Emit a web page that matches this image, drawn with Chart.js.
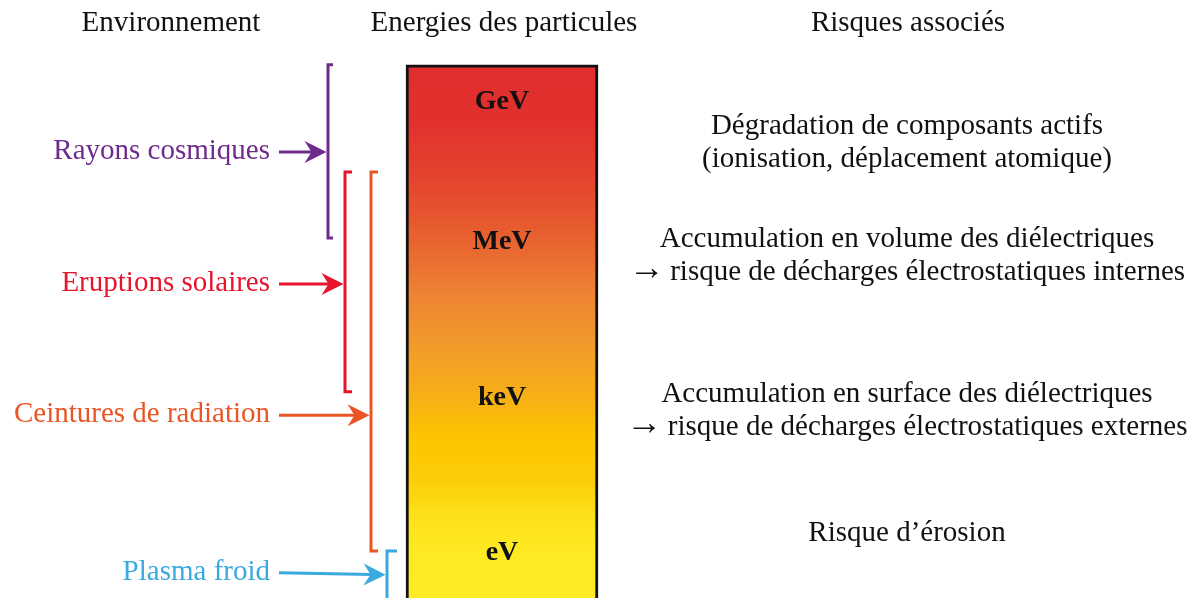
<!DOCTYPE html>
<html><head><meta charset="utf-8">
<script src="https://cdn.jsdelivr.net/npm/chart.js@4/dist/chart.umd.min.js"></script>
<style>html,body{margin:0;padding:0;background:#fff;overflow:hidden}canvas{display:block}</style>
</head><body><canvas id="c" width="1201" height="598"></canvas>
<script>
// ---------- DATA (energies as log10(E / 1 eV)) ----------
const columnHeaders = ['Environnement', 'Energies des particules', 'Risques associés'];
const energyUnits = ['eV', 'keV', 'MeV', 'GeV'];
const energyLevels = [0, 3, 6, 8.7];
const barRange = [-1.5, 9.38];
const environments = ['Rayons cosmiques', 'Eruptions solaires', 'Ceintures de radiation', 'Plasma froid'];
const envLow = [6.04, 3.07, 0, -1.5];
const envHigh = [9.38, 7.31, 7.31, 0];
const envArrowLevel = [7.70, 5.15, 2.62, -0.46];
const envArrowTail = [7.70, 5.15, 2.62, -0.42];
const risks = [
  ['Dégradation de composants actifs', '(ionisation, déplacement atomique)'],
  ['Accumulation en volume des diélectriques', '→ risque de décharges électrostatiques internes'],
  ['Accumulation en surface des diélectriques', '→ risque de décharges électrostatiques externes'],
  ['Risque d’érosion']
];
const riskLevels = [7.91, 5.72, 2.73, 0.37];

// ---------- LAYOUT & STYLE ----------
const L = {
  headerX: [171, 504, 908], headerBaseline: 31,
  barX: 502, barWidth: 192,
  bracketX: [328, 345, 371, 387], tick: [5, 7, 7, 10],
  labelRight: 270, arrowStart: 279, headLen: 22, headHalf: 11, notch: 7,
  riskX: 907, lineGap: 33
};
const envColors = ['#6F2A8A', '#E6142D', '#EA5525', '#39A9DF'];
const gradStops = [
  [9.38, '#E02E2E'], [8.3, '#E2302E'], [7.0, '#E4482E'], [6.0, '#E8622F'],
  [5.0, '#ED8233'], [4.0, '#F29A2C'], [3.0, '#F7AF17'], [2.2, '#FCC500'],
  [1.4, '#FDCD07'], [0.7, '#FDE019'], [0.0, '#FEEA23'], [-1.5, '#FEEC25']
];
const serif = '"Liberation Serif", "Times New Roman", serif';

function barGradient(ctx) {
  const chart = ctx.chart;
  const y = chart.scales.y;
  if (!y || !chart.chartArea) return '#F29A2C';
  const top = y.getPixelForValue(barRange[1]);
  const bot = y.getPixelForValue(barRange[0]);
  if (!isFinite(top) || !isFinite(bot) || top === bot) return '#F29A2C';
  const g = chart.ctx.createLinearGradient(0, top, 0, bot);
  gradStops.forEach(([lvl, col]) => {
    const p = (y.getPixelForValue(lvl) - top) / (bot - top);
    g.addColorStop(Math.min(1, Math.max(0, p)), col);
  });
  return g;
}

const bracketSets = environments.map((name, i) => ({
  type: 'line',
  label: name,
  data: [
    { x: L.bracketX[i] + L.tick[i], y: envHigh[i] },
    { x: L.bracketX[i], y: envHigh[i] },
    { x: L.bracketX[i], y: envLow[i] },
    { x: L.bracketX[i] + L.tick[i], y: envLow[i] }
  ],
  borderColor: envColors[i], borderWidth: 3, pointRadius: 0, tension: 0,
  fill: false, borderJoinStyle: 'miter', borderCapStyle: 'butt'
}));

function drawRiskLine(c, t, cx, by) {
  const mainFont = '29px ' + serif;
  if (t.startsWith('→ ')) {
    const rest = t.slice(2);
    const arrowFont = '36px ' + serif;
    c.font = arrowFont; const aw = c.measureText('→').width;
    c.font = mainFont; const sw = c.measureText(' ').width; const rw = c.measureText(rest).width;
    const gap = sw - 2;
    const total = aw + gap + rw;
    let x0 = cx - total / 2;
    c.textAlign = 'left';
    c.font = arrowFont; c.fillText('→', x0, by - 1);
    c.font = mainFont; c.fillText(rest, x0 + aw + gap, by);
    c.textAlign = 'center';
  } else {
    c.font = mainFont;
    c.fillText(t, cx, by);
  }
}

const textPlugin = {
  id: 'diagramText',
  afterDatasetsDraw(chart) {
    const c = chart.ctx, y = chart.scales.y, x = chart.scales.x;
    c.save();
    c.fillStyle = '#111'; c.textAlign = 'center'; c.textBaseline = 'alphabetic';
    c.font = '29px ' + serif;
    columnHeaders.forEach((t, i) => c.fillText(t, x.getPixelForValue(L.headerX[i]), L.headerBaseline));
    c.font = 'bold 28px ' + serif;
    energyUnits.forEach((t, i) => c.fillText(t, x.getPixelForValue(L.barX), y.getPixelForValue(energyLevels[i]) + 9));
    risks.forEach((lines, i) => {
      const cy = y.getPixelForValue(riskLevels[i]);
      const n = lines.length;
      lines.forEach((t, k) => {
        const ly = cy + (k - (n - 1) / 2) * L.lineGap + 9;
        drawRiskLine(c, t, x.getPixelForValue(L.riskX), ly);
      });
    });
    c.textAlign = 'right';
    c.font = '29px ' + serif;
    environments.forEach((t, i) => {
      const tipY = y.getPixelForValue(envArrowLevel[i]);
      const tailY = y.getPixelForValue(envArrowTail[i]);
      const tipX = x.getPixelForValue(L.bracketX[i]) - 1.5;
      const x0 = x.getPixelForValue(L.arrowStart);
      c.fillStyle = envColors[i]; c.strokeStyle = envColors[i];
      c.fillText(t, x.getPixelForValue(L.labelRight), tailY + 7);
      const ang = Math.atan2(tipY - tailY, tipX - x0);
      const cos = Math.cos(ang), sin = Math.sin(ang);
      const pt = (dx, dy) => [tipX + dx * cos - dy * sin, tipY + dx * sin + dy * cos];
      c.lineWidth = 3;
      c.beginPath(); c.moveTo(x0, tailY);
      const s = pt(-L.headLen + L.notch + 1, 0);
      c.lineTo(s[0], s[1]); c.stroke();
      c.beginPath();
      let p = pt(0, 0); c.moveTo(p[0], p[1]);
      p = pt(-L.headLen, -L.headHalf); c.lineTo(p[0], p[1]);
      p = pt(-L.headLen + L.notch, 0); c.lineTo(p[0], p[1]);
      p = pt(-L.headLen, L.headHalf); c.lineTo(p[0], p[1]);
      c.closePath(); c.fill();
    });
    c.restore();
  }
};

new Chart(document.getElementById('c'), {
  type: 'bar',
  data: {
    datasets: [
      {
        type: 'bar', label: 'Energies',
        data: [{ x: L.barX, y: barRange }],
        barThickness: L.barWidth,
        backgroundColor: barGradient,
        borderColor: '#111', borderWidth: 3, borderSkipped: false
      },
      ...bracketSets
    ]
  },
  options: {
    responsive: false, animation: false, devicePixelRatio: 1,
    layout: { padding: 0 },
    plugins: { legend: { display: false }, tooltip: { enabled: false } },
    scales: {
      x: { type: 'linear', min: 0, max: 1201, offset: false, display: false },
      y: { type: 'linear', min: -0.9068, max: 10.6305, display: false }
    }
  },
  plugins: [textPlugin]
});
</script></body></html>
